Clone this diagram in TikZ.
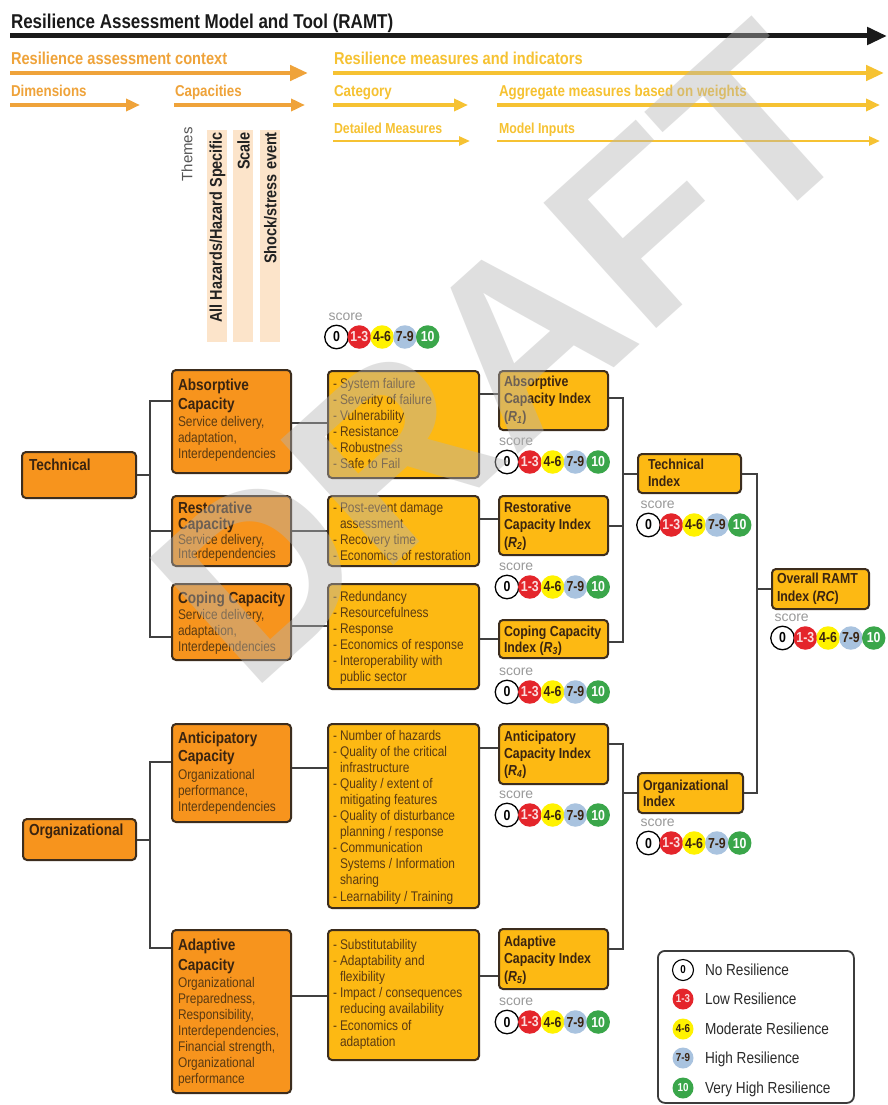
\documentclass[tikz,border=0pt]{standalone}
\usepackage{fontspec}
\setmainfont{Liberation Sans}[FakeStretch=0.85]
\newfontfamily\plainfont{Liberation Sans}
\usetikzlibrary{arrows.meta}

\definecolor{dimorange}{HTML}{F7941D}
\definecolor{boxyellow}{HTML}{FDB913}
\definecolor{edge}{HTML}{3C2D1E}
\definecolor{wire}{HTML}{404040}
\definecolor{titleink}{HTML}{1A1A1A}
\definecolor{hdrorange}{HTML}{EFA33A}
\definecolor{hdryellow}{HTML}{F6C232}
\definecolor{beige}{HTML}{FCE4CA}
\definecolor{inkbold}{HTML}{3A2410}
\definecolor{inkreg}{HTML}{5A3A12}
\definecolor{themegray}{HTML}{555555}
\definecolor{barink}{HTML}{222222}
\definecolor{sred}{HTML}{E4252B}
\definecolor{syellow}{HTML}{FFF200}
\definecolor{sblue}{HTML}{A9C3DF}
\definecolor{sgreen}{HTML}{3AA64A}
\definecolor{scoregray}{HTML}{9A9A9A}
\definecolor{legedge}{HTML}{3C3C3C}
\definecolor{legink}{HTML}{2A2A2A}
\definecolor{wm}{HTML}{B4B4B4}

\newcommand\fs[2]{\fontsize{#1}{#2}\selectfont}
\newcommand\itm{\makebox[7pt][l]{-}}
\newcommand\contl{\hspace*{7pt}}

\tikzset{
  txt/.style={anchor=base west, inner sep=0pt, outer sep=0pt},
  box/.style={draw=edge, line width=2pt, rounded corners=4pt, inner sep=0pt, anchor=north west},
  obox/.style={box, fill=dimorange},
  ybox/.style={box, fill=boxyellow},
  conn/.style={draw=wire, line width=2pt},
  capttl/.style={font=\bfseries\fs{16}{16}, text=inkbold},
  capsub/.style={font=\fs{14}{14}, text=inkreg},
  dtl/.style={font=\fs{14}{14}, text=inkreg},
  idx/.style={font=\bfseries\fs{14.5}{14.5}, text=inkbold},
  harrA/.style={line width=4.5pt, -{Triangle[length=18pt,width=15pt]}},
  harrB/.style={line width=3.5pt, -{Triangle[length=14pt,width=12pt]}},
  harrC/.style={line width=2.5pt, -{Triangle[length=11pt,width=9pt]}},
  bar/.style={anchor=north west, fill=beige, inner sep=0pt, minimum width=20pt, minimum height=212pt},
  bartext/.style={rotate=90, anchor=east, inner sep=0pt, font=\bfseries\fs{17}{17}, text=barink},
  sc/.style={circle, minimum size=23.5pt, inner sep=0pt, font=\bfseries\fs{14.5}{14.5}},
  sc0/.style={sc, fill=white, draw=black, line width=1.3pt, text=black},
  sc1/.style={sc, fill=sred, text=white!85!sred},
  sc2/.style={sc, fill=syellow, text=inkbold},
  sc3/.style={sc, fill=sblue, text=inkbold},
  sc4/.style={sc, fill=sgreen, text=white},
  lg/.style={minimum size=21pt, font=\bfseries\fs{11.5}{11.5}},
  legtext/.style={txt, font=\fs{16}{16}, text=legink},
}

% rows of text: name prefix, x, first baseline, line step, style, lines
\newcommand\textlines[6]{%
  \foreach \lntext [count=\lnidx] in {#6}{%
    \node[txt, #5] (#1-\lnidx) at (#2,{#3+(\lnidx-1)*#4}) {\lntext};}}

% score scale: name prefix, x of the first disc centre, y of the disc centres
\newcommand\scorerow[3]{%
  \node[txt, font=\plainfont\fs{14}{14}, text=scoregray] (#1-score) at ({#2-8},{#3-17}) {score};
  \node[sc0] (#1-s0) at (#2,#3) {0};
  \node[sc1] (#1-s1) at ({#2+22.8},#3) {1-3};
  \node[sc2] (#1-s2) at ({#2+45.6},#3) {4-6};
  \node[sc3] (#1-s3) at ({#2+68.4},#3) {7-9};
  \node[sc4] (#1-s4) at ({#2+91.2},#3) {10};
}

\begin{document}
\begin{tikzpicture}[x=1pt,y=-1pt]
\useasboundingbox (0,0) rectangle (887,1105);
\fill[white] (0,0) rectangle (887,1105);

% ---------- header ----------
\node[txt, font=\bfseries\fs{20}{20}, text=titleink] (title) at (11,29) {Resilience Assessment Model and Tool (RAMT)};
\coordinate (bA) at (10,36); \coordinate (bB) at (887,36);
\draw[line width=5pt, draw=titleink, -{Triangle[length=20pt,width=17pt]}] (bA) -- (bB);

\node[txt, font=\bfseries\fs{17.2}{17}, text=hdrorange] (ctx) at (11,65) {Resilience assessment context};
\coordinate (ctxA) at (10,73); \coordinate (ctxB) at (308,73);
\draw[harrA, draw=hdrorange] (ctxA) -- (ctxB);
\node[txt, font=\bfseries\fs{17.2}{17}, text=hdryellow] (mes) at (334,65) {Resilience measures and indicators};
\coordinate (mesA) at (333,73); \coordinate (mesB) at (884,73);
\draw[harrA, draw=hdryellow] (mesA) -- (mesB);

\node[txt, font=\bfseries\fs{15.7}{16}, text=hdrorange] (dimh) at (11,97) {Dimensions};
\coordinate (dimA) at (10,105); \coordinate (dimB) at (140,105);
\draw[harrB, draw=hdrorange] (dimA) -- (dimB);
\node[txt, font=\bfseries\fs{15.7}{16}, text=hdrorange] (caph) at (175,97) {Capacities};
\coordinate (capA) at (174,105); \coordinate (capB) at (305,105);
\draw[harrB, draw=hdrorange] (capA) -- (capB);
\node[txt, font=\bfseries\fs{15.7}{16}, text=hdryellow] (cath) at (334,97) {Category};
\coordinate (catA) at (333,105); \coordinate (catB) at (468,105);
\draw[harrB, draw=hdryellow] (catA) -- (catB);
\node[txt, font=\bfseries\fs{15.7}{16}, text=hdryellow] (aggh) at (499,97) {Aggregate measures based on weights};
\coordinate (aggA) at (497,105); \coordinate (aggB) at (880,105);
\draw[harrB, draw=hdryellow] (aggA) -- (aggB);

\node[txt, font=\bfseries\fs{14.5}{15}, text=hdryellow] (deth) at (334,134) {Detailed Measures};
\coordinate (detA) at (333,141); \coordinate (detB) at (470,141);
\draw[harrC, draw=hdryellow] (detA) -- (detB);
\node[txt, font=\bfseries\fs{14.5}{15}, text=hdryellow] (inph) at (499,134) {Model Inputs};
\coordinate (inpA) at (497,141); \coordinate (inpB) at (880,141);
\draw[harrC, draw=hdryellow] (inpA) -- (inpB);

% ---------- themes ----------
\node[rotate=90, anchor=east, inner sep=0pt, font=\plainfont\fs{15}{15}, text=themegray] (themes) at (187,127) {Themes};
\node[bar] (bar1) at (207,130) {};
\node[bar] (bar2) at (233,130) {};
\node[bar] (bar3) at (260,130) {};
\node[bartext] (bar1t) at (217.5,132) {All Hazards/Hazard Specific};
\node[bartext] (bar2t) at (243.5,132) {Scale};
\node[bartext] (bar3t) at (270.5,132) {Shock/stress event};

\scorerow{top}{336.5}{337}

% ---------- dimensions ----------
\node[obox, minimum width=114pt, minimum height=46pt] (tech) at (21,451) {};
\node[txt, capttl] (techt) at (29,470) {Technical};
\node[obox, minimum width=113pt, minimum height=41pt] (org) at (22,818) {};
\node[txt, capttl] (orgt) at (29,835) {Organizational};

% ---------- capacities ----------
\node[obox, minimum width=119pt, minimum height=103pt] (absc) at (171,369) {};
\node[obox, minimum width=119pt, minimum height=70pt] (resc) at (171,495) {};
\node[obox, minimum width=119pt, minimum height=76pt] (copc) at (171,583) {};
\node[obox, minimum width=119pt, minimum height=98pt] (antc) at (171,723) {};
\node[obox, minimum width=119pt, minimum height=163pt] (adac) at (171,929) {};

\textlines{abscT}{178}{390}{19}{capttl}{Absorptive,Capacity}
\textlines{abscS}{178}{426}{16.3}{capsub}{{Service delivery,},{adaptation,},Interdependencies}
\textlines{rescT}{178}{513}{16}{capttl}{Restorative,Capacity}
\textlines{rescS}{178}{544}{14}{capsub}{{Service delivery,},Interdependencies}
\textlines{copcT}{178}{603}{16}{capttl}{Coping Capacity}
\textlines{copcS}{178}{619}{16}{capsub}{{Service delivery,},{adaptation,},Interdependencies}
\textlines{antcT}{178}{743}{18}{capttl}{Anticipatory,Capacity}
\textlines{antcS}{178}{779}{16}{capsub}{Organizational,{performance,},Interdependencies}
\textlines{adacT}{178}{950}{20}{capttl}{Adaptive,Capacity}
\textlines{adacS}{178}{987}{16}{capsub}{Organizational,{Preparedness,},{Responsibility,},{Interdependencies,},{Financial strength,},Organizational,performance}

% ---------- detailed measures ----------
\node[ybox, minimum width=151pt, minimum height=107pt] (absd) at (327,370) {};
\node[ybox, minimum width=151pt, minimum height=70pt] (resd) at (327,495) {};
\node[ybox, minimum width=151pt, minimum height=105pt] (copd) at (327,583) {};
\node[ybox, minimum width=151pt, minimum height=184pt] (antd) at (327,723) {};
\node[ybox, minimum width=151pt, minimum height=130pt] (adad) at (327,929) {};

\textlines{absdT}{333}{388}{16}{dtl}{{\itm System failure},{\itm Severity of failure},{\itm Vulnerability},{\itm Resistance},{\itm Robustness},{\itm Safe to Fail}}
\textlines{resdT}{333}{512}{16}{dtl}{{\itm Post-event damage},{\contl assessment},{\itm Recovery time},{\itm Economics of restoration}}
\textlines{copdT}{333}{601}{16}{dtl}{{\itm Redundancy},{\itm Resourcefulness},{\itm Response},{\itm Economics of response},{\itm Interoperability with},{\contl public sector}}
\textlines{antdT}{333}{740}{16.1}{dtl}{{\itm Number of hazards},{\itm Quality of the critical},{\contl infrastructure},{\itm Quality / extent of},{\contl mitigating features},{\itm Quality of disturbance},{\contl planning / response},{\itm Communication},{\contl Systems / Information},{\contl sharing},{\itm Learnability / Training}}
\textlines{adadT}{333}{949}{16.2}{dtl}{{\itm Substitutability},{\itm Adaptability and},{\contl flexibility},{\itm Impact / consequences},{\contl reducing availability},{\itm Economics of},{\contl adaptation}}

% ---------- capacity indices ----------
\node[ybox, minimum width=109pt, minimum height=59pt] (absi) at (498,370) {};
\node[ybox, minimum width=109pt, minimum height=59pt] (resi) at (498,495) {};
\node[ybox, minimum width=109pt, minimum height=38pt] (copi) at (498,619) {};
\node[ybox, minimum width=109pt, minimum height=60pt] (anti) at (498,723) {};
\node[ybox, minimum width=109pt, minimum height=60pt] (adai) at (498,928) {};

\textlines{absiT}{504}{386}{17.5}{idx}{Absorptive,Capacity Index,({\itshape R}\textsubscript{\itshape 1})}
\textlines{resiT}{504}{512}{17.5}{idx}{Restorative,Capacity Index,({\itshape R}\textsubscript{\itshape 2})}
\textlines{copiT}{504}{636}{16.5}{idx}{Coping Capacity,Index ({\itshape R}\textsubscript{\itshape 3})}
\textlines{antiT}{504}{741}{17}{idx}{Anticipatory,Capacity Index,({\itshape R}\textsubscript{\itshape 4})}
\textlines{adaiT}{504}{946}{17.5}{idx}{Adaptive,Capacity Index,({\itshape R}\textsubscript{\itshape 5})}

\scorerow{absiS}{507}{462}
\scorerow{resiS}{507}{587}
\scorerow{copiS}{507}{692}
\scorerow{antiS}{507}{815}
\scorerow{adaiS}{507}{1022}

% ---------- dimension indices and overall ----------
\node[ybox, minimum width=103pt, minimum height=39pt] (techi) at (637,453) {};
\node[ybox, minimum width=105pt, minimum height=40pt] (orgi) at (637,772) {};
\node[ybox, minimum width=97pt, minimum height=40pt] (overall) at (771,568) {};
\textlines{techiT}{648}{469}{17}{idx}{Technical,Index}
\textlines{orgiT}{643}{790}{16.5}{idx}{Organizational,Index}
\textlines{overallT}{777}{583}{18}{idx}{Overall RAMT,Index ({\itshape RC})}

\scorerow{techiS}{648.5}{525}
\scorerow{orgiS}{648.5}{843}
\scorerow{overallS}{782.5}{638}

% ---------- connectors ----------
\coordinate (tA) at (150,401);
\coordinate (tC) at (150,637);
\draw[conn] (tech.east) -- (tech.east -| tA);
\draw[conn] (tA -| absc.west) -- (tA) -- (tC) -- (tC -| copc.west);
\draw[conn] (resc.west) -- (resc.west -| tA);

\coordinate (oA) at (150,762);
\coordinate (oB) at (150,948);
\draw[conn] (org.east) -- (org.east -| oA);
\draw[conn] (oA -| antc.west) -- (oA) -- (oB) -- (oB -| adac.west);

\draw[conn] ([yshift=-1.5pt]absc.east) -- ([yshift=-1.5pt]absc.east -| absd.west);
\draw[conn] (resc.east) -- (resc.east -| resd.west);
\draw[conn] ([yshift=-4pt]copc.east) -- ([yshift=-4pt]copc.east -| copd.west);
\draw[conn] ([yshift=5pt]antc.east) -- ([yshift=5pt]antc.east -| antd.west);
\draw[conn] ([yshift=15.5pt]adac.east) -- ([yshift=15.5pt]adac.east -| adad.west);

\draw[conn] ([yshift=6.5pt]absi.west) -- ([yshift=6.5pt]absi.west -| absd.east);
\draw[conn] ([yshift=6.5pt]resi.west) -- ([yshift=6.5pt]resi.west -| resd.east);
\draw[conn] (copi.west) -- (copi.west -| copd.east);
\draw[conn] ([yshift=6pt]anti.west) -- ([yshift=6pt]anti.west -| antd.east);
\draw[conn] ([yshift=-17pt]adai.west) -- ([yshift=-17pt]adai.west -| adad.east);

\coordinate (vT) at (623,0);
\draw[conn] ([yshift=2.5pt]absi.east) -- ([yshift=2.5pt]absi.east -| vT) -- ([yshift=-3pt]copi.east -| vT) -- ([yshift=-3pt]copi.east);
\draw[conn] (resi.east) -- (resi.east -| vT);
\draw[conn] (techi.west) -- (techi.west -| vT);
\draw[conn] ([yshift=10pt]anti.east) -- ([yshift=10pt]anti.east -| vT) -- ([yshift=10pt]adai.east -| vT) -- ([yshift=10pt]adai.east);
\draw[conn] (orgi.west) -- (orgi.west -| vT);

\coordinate (vR) at (757,0);
\draw[conn] (techi.east) -- (techi.east -| vR) -- (orgi.east -| vR) -- (orgi.east);
\draw[conn] (overall.west) -- (overall.west -| vR);

% ---------- legend ----------
\node[anchor=north west, draw=legedge, line width=1.8pt, rounded corners=7pt, fill=white, minimum width=196pt, minimum height=152pt, inner sep=0pt] (legend) at (657,950) {};
\node[sc0, lg, line width=1.1pt] (lg0) at (683,970) {0};
\node[sc1, lg] (lg1) at (683,999) {1-3};
\node[sc2, lg] (lg2) at (683,1029) {4-6};
\node[sc3, lg] (lg3) at (683,1058) {7-9};
\node[sc4, lg] (lg4) at (683,1088) {10};
\node[legtext] (lg0t) at (705,975.5) {No Resilience};
\node[legtext] (lg1t) at (705,1004.5) {Low Resilience};
\node[legtext] (lg2t) at (705,1034.5) {Moderate Resilience};
\node[legtext] (lg3t) at (705,1063.5) {High Resilience};
\node[legtext] (lg4t) at (705,1093.5) {Very High Resilience};

% ---------- watermark ----------
\node[rotate=42, anchor=base west, inner sep=0pt, font=\plainfont\bfseries\fs{245}{245}, text=wm, text opacity=0.42] (draft) at (250,695) {DRAFT};
\end{tikzpicture}
\end{document}
